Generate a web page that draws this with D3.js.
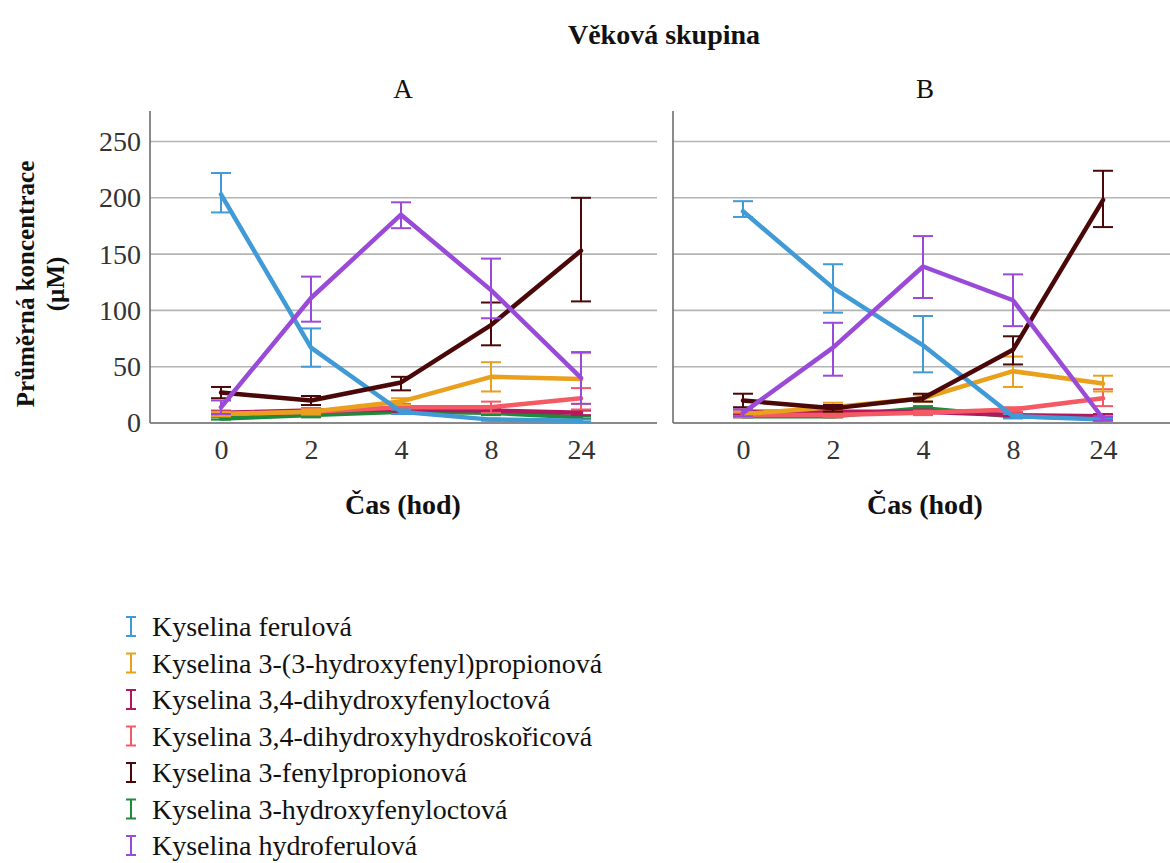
<!DOCTYPE html>
<html>
<head>
<meta charset="utf-8">
<script src="https://cdn.jsdelivr.net/npm/d3@7"></script>
<style>
  html, body { margin: 0; padding: 0; background: #fff; }
  svg { display: block; }
  svg text { font-family: 'Liberation Serif', 'DejaVu Serif', 'Times New Roman', serif !important; }
</style>
</head>
<body>
<svg id="chart" width="1170" height="863"></svg>
<script>
// Time points (hours) and value ticks
const timeLabels = ["0", "2", "4", "8", "24"];
const yTicks = [0, 50, 100, 150, 200, 250];
const panels = ["A", "B"];

const seriesNames = [
  "Kyselina ferulová",
  "Kyselina 3-(3-hydroxyfenyl)propionová",
  "Kyselina 3,4-dihydroxyfenyloctová",
  "Kyselina 3,4-dihydroxyhydroskořicová",
  "Kyselina 3-fenylpropionová",
  "Kyselina 3-hydroxyfenyloctová",
  "Kyselina hydroferulová"
];
const seriesColors = ["#3f9ad6", "#e9a01c", "#b3185f", "#f55a64", "#4a0808", "#1e8a3c", "#9a4ad8"];

// Group A: means, lower and upper error bounds per series (same order as seriesNames)
const meanA = [
  [203, 67, 10, 3, 2],
  [8, 10, 19, 41, 39],
  [9, 11, 12, 11, 9],
  [8, 10, 14, 14, 22],
  [27, 20, 36, 87, 153],
  [4, 7, 10, 9, 5],
  [14, 111, 185, 118, 40]
];
const lowA = [
  [187, 50, 8, 2, 1],
  [6, 8, 16, 28, 17],
  [7, 9, 10, 9, 7],
  [6, 7, 12, 9, 12],
  [22, 16, 29, 69, 108],
  [3, 5, 8, 7, 4],
  [8, 90, 173, 93, 17]
];
const highA = [
  [222, 84, 12, 4, 3],
  [10, 12, 22, 54, 62],
  [11, 13, 14, 13, 11],
  [10, 13, 17, 19, 31],
  [32, 24, 41, 107, 200],
  [5, 9, 12, 11, 6],
  [20, 130, 196, 146, 63]
];

// Group B
const meanB = [
  [188, 120, 69, 6, 3],
  [8, 14, 22, 46, 35],
  [10, 10, 10, 7, 6],
  [7, 7, 9, 12, 22],
  [20, 13, 22, 65, 198],
  [6, 6, 13, 6, 4],
  [9, 67, 139, 109, 4]
];
const lowB = [
  [183, 98, 45, 4, 2],
  [6, 10, 19, 32, 28],
  [8, 8, 8, 5, 4],
  [5, 5, 7, 10, 15],
  [14, 10, 19, 52, 174],
  [5, 5, 11, 5, 3],
  [6, 42, 111, 86, 2]
];
const highB = [
  [197, 141, 95, 8, 4],
  [10, 18, 25, 59, 42],
  [12, 12, 12, 9, 8],
  [9, 9, 11, 14, 30],
  [26, 16, 26, 77, 224],
  [7, 7, 15, 7, 5],
  [12, 89, 166, 132, 6]
];

const groupData = { A: [meanA, lowA, highA], B: [meanB, lowB, highB] };

// drawing order, bottom to top
const drawOrder = [5, 2, 3, 1, 0, 4, 6];

const svg = d3.select("#chart");
const FONT = "'Liberation Serif', 'DejaVu Serif', serif";

const y = d3.scaleLinear().domain([0, 250]).range([423, 141.5]);

const panelLayout = {
  A: { left: 150, right: 657, x0: 221, x1: 581, label: 403 },
  B: { left: 673, right: 1170, x0: 743, x1: 1103, label: 925 }
};

// Overall title, centred over both panels
svg.append("text")
  .attr("x", (panelLayout.A.label + panelLayout.B.label) / 2).attr("y", 44)
  .attr("text-anchor", "middle")
  .attr("font-size", 28).attr("font-weight", "bold")
  .attr("fill", "#111")
  .text("Věková skupina");

// Y-axis title (two lines, rotated)
const yTitle = svg.append("text")
  .attr("transform", "rotate(-90)")
  .attr("font-size", 25).attr("font-weight", "bold").attr("fill", "#111")
  .attr("text-anchor", "middle");
yTitle.append("tspan").attr("x", -284).attr("y", 34).text("Průměrná koncentrace");
yTitle.append("tspan").attr("x", -284).attr("y", 64).text("(µM)");

// Y tick labels (left of panel A)
svg.append("g")
  .attr("transform", `translate(${panelLayout.A.left},0)`)
  .call(d3.axisLeft(y).tickValues(yTicks).tickSize(0).tickPadding(9).tickFormat(d3.format("d")))
  .call(g => g.select(".domain").remove())
  .call(g => g.selectAll("text")
    .attr("font-family", FONT)
    .attr("font-size", 28).attr("fill", "#333"));

const line = d3.line().curve(d3.curveLinear);

panels.forEach(p => {
  const L = panelLayout[p];
  const x = d3.scalePoint().domain(timeLabels).range([L.x0, L.x1]);
  const g = svg.append("g");

  // Panel label
  g.append("text")
    .attr("x", L.label).attr("y", 98)
    .attr("text-anchor", "middle")
    .attr("font-size", 27).attr("fill", "#111")
    .text(p);

  // gridlines
  g.append("g")
    .selectAll("line")
    .data(yTicks.filter(d => d > 0))
    .join("line")
    .attr("x1", L.left).attr("x2", L.right)
    .attr("y1", d => y(d)).attr("y2", d => y(d))
    .attr("stroke", "#b4b4b4").attr("stroke-width", 1.6);

  // baseline and left axis line
  g.append("line")
    .attr("x1", L.left).attr("x2", L.right)
    .attr("y1", y(0)).attr("y2", y(0))
    .attr("stroke", "#8a8a8a").attr("stroke-width", 2);
  g.append("line")
    .attr("x1", L.left).attr("x2", L.left)
    .attr("y1", 111).attr("y2", y(0))
    .attr("stroke", "#6e6e6e").attr("stroke-width", 1.6);

  // x tick labels
  g.append("g")
    .attr("transform", `translate(0,${y(0)})`)
    .call(d3.axisBottom(x).tickSize(0).tickPadding(16))
    .call(a => a.select(".domain").remove())
    .call(a => a.selectAll("text")
      .attr("font-family", FONT)
      .attr("font-size", 28).attr("fill", "#333"));

  // x axis title
  g.append("text")
    .attr("x", L.label).attr("y", 514)
    .attr("text-anchor", "middle")
    .attr("font-size", 28).attr("font-weight", "bold").attr("fill", "#111")
    .text("Čas (hod)");

  const [means, lows, highs] = groupData[p];

  drawOrder.forEach(si => {
    const col = seriesColors[si];
    const pts = means[si].map((v, i) => [x(timeLabels[i]), y(v)]);
    g.append("path")
      .attr("d", line(pts))
      .attr("fill", "none")
      .attr("stroke", col)
      .attr("stroke-width", 4.5)
      .attr("stroke-linejoin", "round")
      .attr("stroke-linecap", "round");

    // error bars
    const eb = g.append("g").attr("stroke", col).attr("stroke-width", 2);
    means[si].forEach((v, i) => {
      const cx = x(timeLabels[i]);
      const lo = y(lows[si][i]), hi = y(highs[si][i]);
      eb.append("line").attr("x1", cx).attr("x2", cx).attr("y1", lo).attr("y2", hi);
      eb.append("line").attr("x1", cx - 10).attr("x2", cx + 10).attr("y1", lo).attr("y2", lo);
      eb.append("line").attr("x1", cx - 10).attr("x2", cx + 10).attr("y1", hi).attr("y2", hi);
    });
  });
});

// Legend
const legend = svg.append("g").attr("transform", "translate(122,636)");
seriesNames.forEach((name, i) => {
  const it = legend.append("g").attr("transform", `translate(0,${i * 36.5})`);
  const col = seriesColors[i];
  it.append("line").attr("x1", 9).attr("x2", 9).attr("y1", -19).attr("y2", 0).attr("stroke", col).attr("stroke-width", 2);
  it.append("line").attr("x1", 4).attr("x2", 14).attr("y1", -19).attr("y2", -19).attr("stroke", col).attr("stroke-width", 2);
  it.append("line").attr("x1", 4).attr("x2", 14).attr("y1", 0).attr("y2", 0).attr("stroke", col).attr("stroke-width", 2);
  it.append("text")
    .attr("x", 30).attr("y", 0)
    .attr("font-size", 28).attr("fill", "#111")
    .text(name);
});
</script>
</body>
</html>
